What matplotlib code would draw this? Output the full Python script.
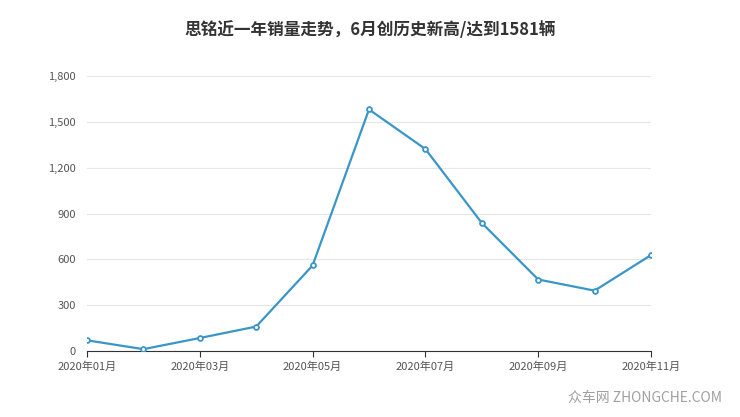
import matplotlib
matplotlib.use("Agg")
import matplotlib.pyplot as plt
from matplotlib.ticker import FuncFormatter

plt.rcParams['font.family'] = ['Noto Sans CJK SC', 'DejaVu Sans']

months = ["2020年01月","2020年02月","2020年03月","2020年04月","2020年05月","2020年06月",
          "2020年07月","2020年08月","2020年09月","2020年10月","2020年11月"]
sales = [70, 12, 85, 160, 560, 1581, 1322, 838, 468, 395, 628]
yticks = [0, 300, 600, 900, 1200, 1500, 1800]

fig = plt.figure(figsize=(7.4, 4.17), dpi=100)
ax = fig.add_axes([87/740, 1-351/417, (651-87)/740, (351-76)/417])
x = list(range(len(months)))
ax.plot(x, sales, color='#3a96c8', lw=1.6, marker='o', ms=3.5, mfc='white', mec='#3a96c8', mew=1.3, zorder=3)
ax.set_xlim(0, len(months)-1)
ax.set_ylim(0, 1800)
ax.set_yticks(yticks)
ax.yaxis.set_major_formatter(FuncFormatter(lambda v, p: f"{int(v):,}"))
ax.set_xticks(x[::2])
ax.set_xticklabels(months[::2])
ax.grid(axis='y', color='#e6e6e6', lw=0.8)
for s in ['top', 'right', 'left']:
    ax.spines[s].set_visible(False)
ax.spines['bottom'].set_color('#333333')
ax.tick_params(axis='y', length=0, labelsize=8, colors='#555555', pad=8)
ax.tick_params(axis='x', length=4, labelsize=8, colors='#555555', color='#333333')
fig.text(0.5, 1-30/417, "思铭近一年销量走势，6月创历史新高/达到1581辆", ha='center', va='center',
         fontsize=12, fontweight='bold', color='#333333')
fig.text(0.975, 1-398/417, "众车网 ZHONGCHE.COM", ha='right', va='center', fontsize=10, color='#a0a0a0')
fig.savefig("out.png", dpi=100)
